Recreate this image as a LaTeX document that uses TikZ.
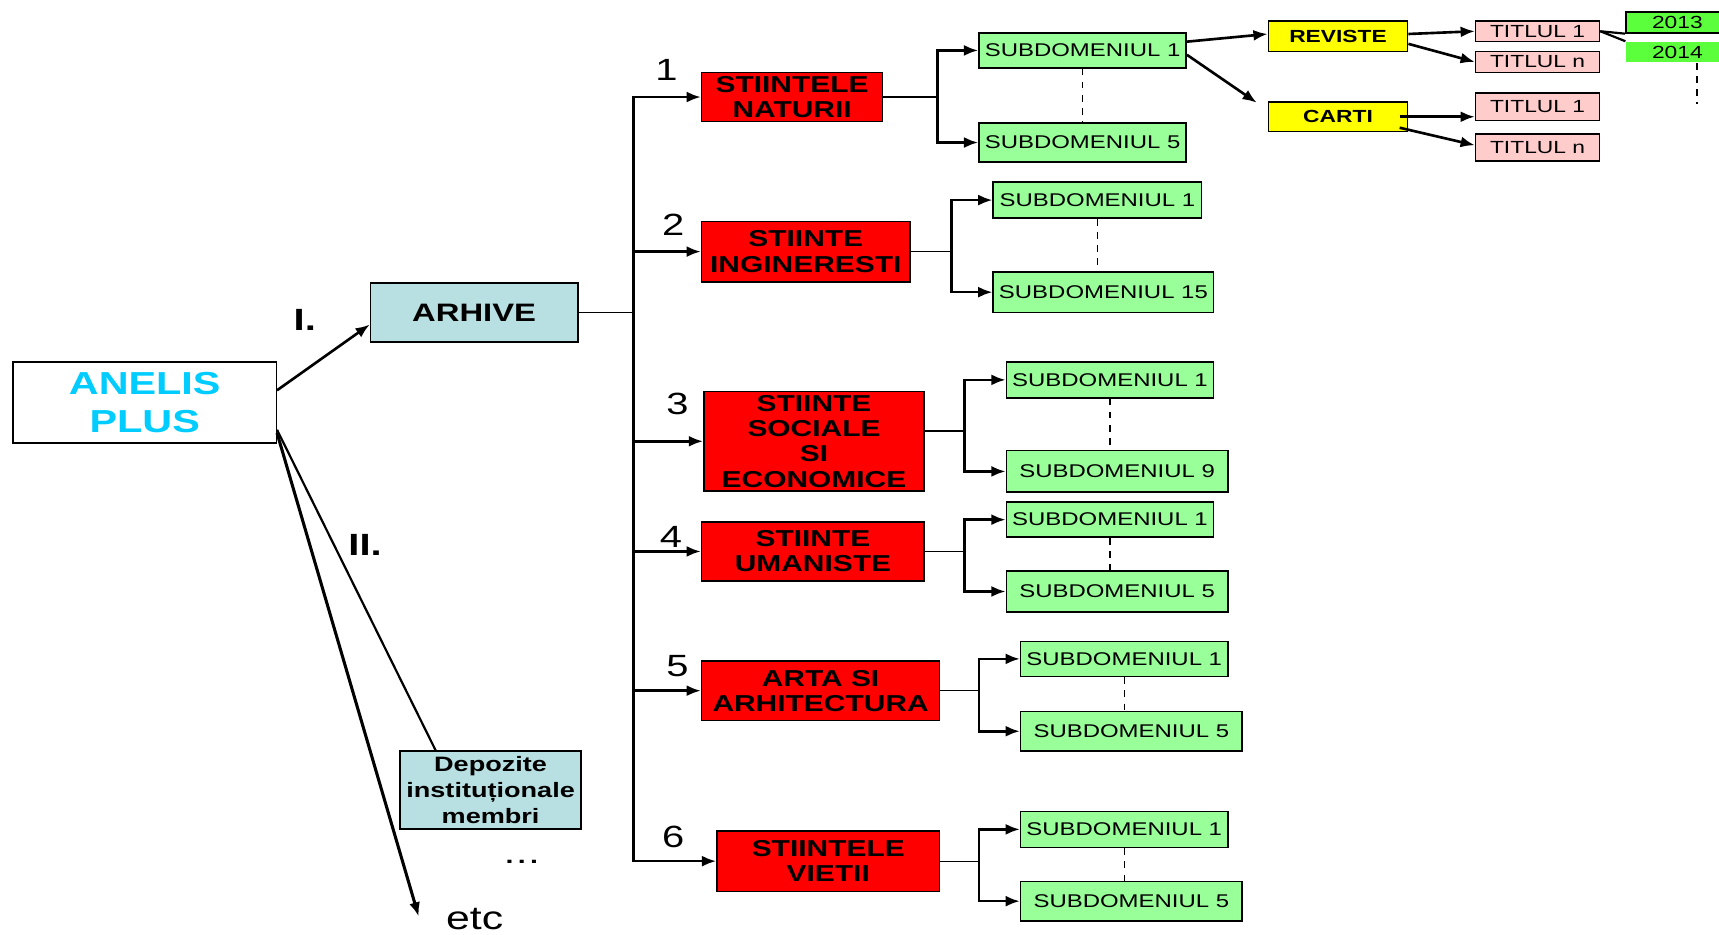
\documentclass[tikz,border=0pt]{standalone}
\usepackage{fontspec}
\setmainfont{Liberation Sans}[FakeStretch=1.3]
\usetikzlibrary{arrows.meta}
\definecolor{rosu}{HTML}{FF0000}
\definecolor{verde}{HTML}{99FF99}
\definecolor{verdean}{HTML}{5CFF3C}
\definecolor{galben}{HTML}{FFFF00}
\definecolor{roz}{HTML}{FFCCCC}
\definecolor{albastru}{HTML}{B8DFE1}
\definecolor{cyantext}{HTML}{00CCFF}
\tikzset{
  box/.style={draw, line width=0.7pt, inner sep=0pt, align=center},
  anelis/.style={box, fill=white, text=cyantext, font=\fontsize{14.5}{17.5}\selectfont\bfseries},
  arhiva/.style={box, fill=albastru, font=\fontsize{11.5}{13}\selectfont\bfseries},
  domeniu/.style={box, fill=rosu, font=\fontsize{10.5}{11.5}\selectfont\bfseries},
  subdom/.style={box, fill=verde, font=\fontsize{8.4}{9}\selectfont},
  tip/.style={box, fill=galben, minimum width=63.5pt, font=\fontsize{8}{9}\selectfont\bfseries},
  titlu/.style={box, fill=roz, minimum width=56.5pt, font=\fontsize{8}{9}\selectfont},
  an/.style={inner sep=0pt, fill=verdean, minimum width=47pt, minimum height=9.5pt, font=\fontsize{8}{9}\selectfont},
  numar/.style={font=\fontsize{14}{14}\selectfont},
  arr/.style={-{Latex[length=6.5pt,width=5pt]}, line width=1.2pt},
  subtire/.style={line width=0.6pt}
}
\begin{document}
\begin{tikzpicture}[x=0.5pt,y=-0.5pt]
  \useasboundingbox (0,0) rectangle (1568,852);
  \clip (0,0) rectangle (1568,852);
  \node[anelis, minimum width=120pt, minimum height=37pt] (an) at (132,367) {ANELIS\\PLUS};
  \node[arhiva, minimum width=94.5pt, minimum height=27pt] (ark) at (432.5,285) {ARHIVE};
  \node[arhiva, minimum width=82.5pt, minimum height=35.5pt, font=\fontsize{9.5}{11.75}\selectfont\bfseries] (dep) at (447.5,720.5) {Depozite\\instituționale\\membri};
  \node (dots) at (476,786) {\bfseries\fontsize{10}{10}\selectfont.\hspace{2pt}.\hspace{2pt}.};
  \node[font=\fontsize{15}{15}\selectfont] (etc) at (433,838) {etc};
  \node[numar, font=\fontsize{14}{14}\selectfont\bfseries] (r1) at (278,292) {I.};
  \node[numar, font=\fontsize{14}{14}\selectfont\bfseries] (r2) at (333,497) {II.};

  \node[domeniu, minimum width=82.5pt, minimum height=22.5pt] (d1) at (722.5,88.5) {STIINTELE\\NATURII};
  \node[domeniu, minimum width=95pt, minimum height=27.5pt] (d2) at (735,229.5) {STIINTE\\INGINERESTI};
  \node[domeniu, minimum width=100.5pt, minimum height=45.5pt] (d3) at (742.5,402.5) {STIINTE\\SOCIALE\\SI\\ECONOMICE};
  \node[domeniu, minimum width=101.5pt, minimum height=27pt] (d4) at (741.5,503) {STIINTE\\UMANISTE};
  \node[domeniu, minimum width=108.5pt, minimum height=27pt] (d5) at (748.5,630) {ARTA SI\\ARHITECTURA};
  \node[domeniu, minimum width=101.5pt, minimum height=27.5pt] (d6) at (755.5,785.5) {STIINTELE\\VIETII};
  \node[numar] (n1) at (608,64) {1};
  \node[numar] (n2) at (614,205) {2};
  \node[numar] (n3) at (618,368) {3};
  \node[numar] (n4) at (612,490) {4};
  \node[numar] (n5) at (618,608) {5};
  \node[numar] (n6) at (614,763) {6};

  \node[subdom, minimum width=94.5pt, minimum height=16pt] (s11) at (987.5,46) {SUBDOMENIUL 1};
  \node[subdom, minimum width=94.5pt, minimum height=18pt] (s12) at (987.5,130) {SUBDOMENIUL 5};
  \node[subdom, minimum width=95pt, minimum height=16.5pt] (s21) at (1001,182.5) {SUBDOMENIUL 1};
  \node[subdom, minimum width=100.5pt, minimum height=18.5pt] (s22) at (1006.5,266.5) {SUBDOMENIUL 15};
  \node[subdom, minimum width=94.5pt, minimum height=16.5pt] (s31) at (1012.5,346.5) {SUBDOMENIUL 1};
  \node[subdom, minimum width=101pt, minimum height=19pt] (s32) at (1019,430) {SUBDOMENIUL 9};
  \node[subdom, minimum width=94.5pt, minimum height=16pt] (s41) at (1012.5,474) {SUBDOMENIUL 1};
  \node[subdom, minimum width=101pt, minimum height=18.5pt] (s42) at (1019,539.5) {SUBDOMENIUL 5};
  \node[subdom, minimum width=94.5pt, minimum height=16pt] (s51) at (1025.5,601) {SUBDOMENIUL 1};
  \node[subdom, minimum width=101pt, minimum height=18pt] (s52) at (1032,667) {SUBDOMENIUL 5};
  \node[subdom, minimum width=94.5pt, minimum height=16.5pt] (s61) at (1025.5,756.5) {SUBDOMENIUL 1};
  \node[subdom, minimum width=101pt, minimum height=18pt] (s62) at (1032,822) {SUBDOMENIUL 5};

  \node[tip, minimum height=14pt] (rev) at (1220.5,33) {REVISTE};
  \node[tip, minimum height=13.5pt] (car) at (1220.5,106.5) {CARTI};
  \node[titlu, minimum height=9.5pt] (t11) at (1402.5,28.5) {TITLUL 1};
  \node[titlu, minimum height=9.5pt] (t1n) at (1402.5,56.5) {TITLUL n};
  \node[titlu, minimum height=12.5pt] (t21) at (1402.5,97.5) {TITLUL 1};
  \node[titlu, minimum height=12.5pt] (t2n) at (1402.5,134.5) {TITLUL n};
  \node[an, draw, line width=0.7pt] (y13) at (1530,20.5) {2013};
  \node[an] (y14) at (1530,47.5) {2014};

  \coordinate (t0) at (578,285);
  \coordinate (k1) at (855,88.5);
  \coordinate (k2) at (868,229.5);
  \coordinate (k3) at (880,393);
  \coordinate (k4) at (880,503);
  \coordinate (k5) at (893,630);
  \coordinate (k6) at (893,785.5);
  \coordinate (yend) at (1548,95);

  \draw[arr] ([yshift=5.5pt]an.east) -- ([yshift=-5.5pt]ark.west);
  \draw[line width=1pt] ([yshift=-12.5pt]an.east) -- ([xshift=16.5pt]dep.north west);
  \draw[arr, line width=1.4pt] ([yshift=-14pt]an.east) -- ([xshift=-9pt,yshift=1pt]etc.west);

  \draw[subtire] (ark.east) -- (t0);
  \draw[arr] (t0) |- (d1.west);
  \draw[arr] (t0) |- (d2.west);
  \draw[arr] (t0) |- (d3.west);
  \draw[arr] (t0) |- (d4.west);
  \draw[arr] (t0) |- (d5.west);
  \draw[arr] (t0) |- (d6.west);

  \foreach \i in {1,...,6}{
    \draw[subtire] (d\i.east |- k\i) -- (k\i);
    \draw[arr] (k\i) |- (s\i1.west);
    \draw[arr] (k\i) |- (s\i2.west);
    \draw[dashed, subtire] (s\i1.south) -- (s\i1.south |- s\i2.north);
  }

  \draw[arr] ([yshift=4pt]s11.east) -- ([yshift=1pt]rev.west);
  \draw[arr, shorten >=6pt] ([yshift=-2pt]s11.east) -- ([yshift=3pt]car.west);
  \draw[arr] ([yshift=1pt]rev.east) -- (t11.west);
  \draw[arr] ([yshift=-3.5pt]rev.east) -- (t1n.west);
  \draw[arr] ([xshift=-4pt]car.east) -- (car.east -| t21.west);
  \draw[arr] ([xshift=-4pt,yshift=-5pt]car.east) -- ([yshift=1pt]t2n.west);
  \draw[line width=1pt] (t11.east) -- (y13.south west);
  \draw[line width=1pt] (t11.east) -- (y14.north west);
  \draw[dashed, subtire] (y14.south -| yend) -- (yend);
\end{tikzpicture}
\end{document}
